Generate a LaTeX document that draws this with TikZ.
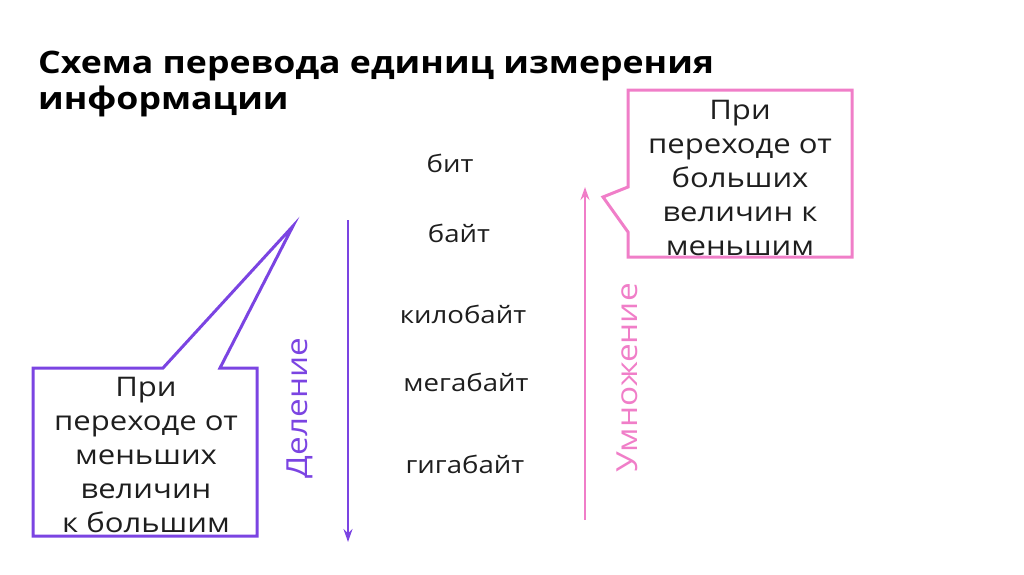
\documentclass[tikz,border=0pt]{standalone}
\usepackage{fontspec}
\setmainfont{Open Sans}[FakeStretch=1.15]
\usetikzlibrary{arrows.meta}
\definecolor{delcol}{HTML}{7B44E2}
\definecolor{umncol}{HTML}{F07EC8}
\definecolor{txtcol}{HTML}{1E1E1E}
\begin{document}
\begin{tikzpicture}[x=1pt,y=-1pt,
    unit/.style={anchor=base,inner sep=0pt,text=txtcol,font=\fontsize{24}{28}\selectfont},
    boxtext/.style={align=center,inner sep=0pt,text=txtcol,font=\fontsize{27}{34}\selectfont},
    balloon/.style={line width=3pt,line join=miter},
    flow/.style={line width=2.8pt,-{Stealth[length=13pt,width=9pt]}},
    sidelabel/.style={rotate=90,inner sep=0pt,font=\fontsize{29}{32}\selectfont}]
  \useasboundingbox (0,0) rectangle (1024,574);
  % title
  \node[anchor=base west,inner sep=0pt,font=\bfseries\fontsize{31}{36}\selectfont] (title1) at (38,73) {Схема перевода единиц измерения};
  \node[anchor=base west,inner sep=0pt,font=\bfseries\fontsize{31}{36}\selectfont] (title2) at (38,109) {информации};
  % units
  \node[unit] (bit)  at (450,172) {бит};
  \node[unit] (byte) at (459,242) {байт};
  \node[unit] (kb)   at (463,323) {килобайт};
  \node[unit] (mb)   at (466,391) {мегабайт};
  \node[unit] (gb)   at (465,473) {гигабайт};
  % arrows
  \coordinate (delTop) at (348,220);
  \coordinate (delBot) at (348,542);
  \coordinate (umnBot) at (585,520);
  \coordinate (umnTop) at (585,187);
  \draw[flow,delcol] (delTop) -- (delBot);
  \draw[flow,umncol] (umnBot) -- (umnTop);
  \node[sidelabel,text=delcol] (delenie) at (300,408) {Деление};
  \node[sidelabel,text=umncol] (umnozh) at (627,378) {Умножение};
  % left balloon
  \draw[balloon,delcol] (33,368) -- (163,368) -- (293,226) -- (220,368)
      -- (257,368) -- (257,536) -- (33,536) -- cycle;
  \node[boxtext] (leftnote) at (146,455) {При\\переходе от\\меньших\\величин\\к большим};
  % right balloon
  \draw[balloon,umncol] (628,90) -- (852,90) -- (852,257) -- (628,257)
      -- (628,232) -- (603,197) -- (628,187) -- cycle;
  \node[boxtext] (rightnote) at (740,178) {При\\переходе от\\больших\\величин к\\меньшим};
\end{tikzpicture}
\end{document}
